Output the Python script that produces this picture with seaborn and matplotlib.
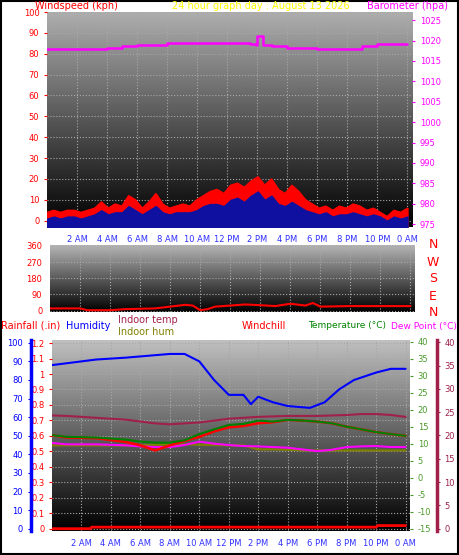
import numpy as np
import pandas as pd
import matplotlib
matplotlib.use("Agg")
import matplotlib.pyplot as plt
import seaborn as sns

sns.set_style("white")
plt.rcParams['font.family'] = ['DejaVu Sans']
plt.rcParams['axes.unicode_minus'] = False

# ---------------- data ----------------
tick_hours = [2, 4, 6, 8, 10, 12, 14, 16, 18, 20, 22, 24]
tick_labels = ["2 AM", "4 AM", "6 AM", "8 AM", "10 AM", "12 PM", "2 PM", "4 PM",
               "6 PM", "8 PM", "10 PM", "0 AM"]

gust = [4, 5, 4, 5, 5, 4, 5, 6, 9, 6, 8, 7, 12, 10, 6, 9, 13, 8, 6, 7, 8, 7, 10, 12,
        14, 15, 13, 17, 18, 16, 19, 21, 17, 20, 15, 13, 17, 14, 10, 8, 6, 7, 5, 7,
        6, 8, 7, 5, 6, 4, 2, 5, 4, 6]
avg = [1, 2, 1, 2, 2, 1, 2, 3, 5, 3, 4, 4, 7, 5, 3, 5, 7, 4, 3, 4, 4, 4, 5, 7,
       8, 8, 7, 10, 11, 9, 12, 14, 10, 12, 8, 7, 9, 7, 5, 4, 3, 4, 2, 3,
       3, 4, 3, 2, 3, 2, 0, 2, 1, 2]
baro_h = [0, 2, 4, 5, 6, 8, 10, 12, 13.5, 13.9, 14.0, 14.3, 14.4, 15, 16, 18, 20, 21, 22, 24]
baro = [1018, 1018, 1018.2, 1018.6, 1019, 1019.3, 1019.4, 1019.4, 1019.1, 1019.0,
        1021.0, 1021.0, 1018.8, 1018.6, 1018.2, 1018.0, 1018.0, 1018.6, 1019.1, 1019.2]

dir_h = [0, 2, 2.5, 4, 5, 6, 7, 8, 9, 9.5, 10, 10.5, 11, 12, 13, 14, 15, 16, 17, 17.5, 18, 20, 24]
direction = [12, 12, 2, 2, 8, 10, 12, 22, 32, 28, 2, 8, 22, 28, 34, 30, 25, 38, 28, 42, 22, 25, 25]

hum_h = [0, 1, 3, 5, 8, 9, 10, 11, 12, 13, 13.5, 14, 15, 16, 17.5, 18.5, 19.5, 20.5, 22, 23, 24]
humidity = [88, 89, 91, 92, 94, 94, 90, 80, 72, 72, 67, 71, 68, 66, 65, 68, 75, 80, 84, 86, 86]

t_h = [0, 1, 3, 5, 6, 7, 8, 9, 10, 11, 12, 13, 14, 15, 16, 17, 18, 19, 20, 21, 22, 23, 24]
temperature = [12.5, 12, 11.8, 11.2, 10.6, 10.3, 10.3, 11, 12.8, 14.2, 15.5, 15.8, 16.8,
               16.5, 17.0, 16.8, 16.5, 16.0, 15.0, 14.2, 13.4, 12.8, 12.3]
windchill = [12.5, 11.8, 11.6, 10.5, 9.5, 8.0, 9.5, 10.8, 12.0, 13.6, 14.8, 15.2, 16.0,
             16.3, 17.0, 16.8, 16.5, 16.0, 15.0, 14.2, 13.4, 12.8, 12.3]
dewpoint = [10.2, 9.8, 9.8, 9.5, 9.2, 9.0, 9.0, 9.6, 10.6, 10.0, 9.6, 9.3, 9.2,
            9.0, 8.8, 8.3, 7.8, 8.2, 9.0, 9.2, 9.3, 9.0, 9.0]
indoor_hum = [9.5, 9.5, 9.5, 9.5, 9.5, 9.7, 9.7, 9.8, 9.7, 9.6, 9.5, 9.5, 8.3,
              8.3, 8.2, 8.0, 8.0, 8.0, 8.0, 8.0, 8.0, 8.0, 8.0]
indoor_temp = [24.3, 24.2, 23.8, 23.4, 23.0, 22.6, 22.4, 22.6, 22.8, 23.2, 23.6, 23.8, 24.0,
               24.1, 24.2, 24.2, 24.2, 24.3, 24.4, 24.6, 24.6, 24.4, 24.0]
rain_h = [0, 2.6, 2.7, 22.0, 22.1, 24]
rain = [0, 0, 0.01, 0.01, 0.02, 0.02]

W, H = 459, 555
fig = plt.figure(figsize=(W / 100, H / 100), dpi=100)
fig.patch.set_facecolor("white")
fig.add_artist(plt.Rectangle((0.002, 0.002), 0.996, 0.996, transform=fig.transFigure,
                             fill=False, edgecolor="black", lw=1.5))

def box(x0, y0, x1, y1):
    return [x0 / W, 1 - y1 / H, (x1 - x0) / W, (y1 - y0) / H]

grad = np.linspace(1, 0, 256).reshape(-1, 1)

def bg(ax, top=0.7):
    ax.imshow(grad * top, extent=[0, 1, 0, 1], transform=ax.transAxes, aspect="auto",
              cmap="gray", vmin=0, vmax=1, zorder=0)
    ax.grid(True, color="#a8a8a8", ls=":", lw=0.8)
    for s in ax.spines.values():
        s.set_visible(False)

def xfmt(ax, labels=True):
    ax.set_xlim(0, 24.3)
    ax.set_xticks(tick_hours)
    ax.set_xticks(range(1, 25), minor=True)
    if labels:
        ax.set_xticklabels(tick_labels, color="#3030ff", fontsize=6)
    else:
        ax.set_xticklabels([])
    ax.tick_params(axis="x", which="both", length=2, color="#c0c0c0")

fs = 6
# ---------------- top panel ----------------
ax1 = fig.add_axes(box(47, 12, 412, 227))
bg(ax1, 0.68)
xfmt(ax1)
ws = pd.DataFrame({"h": np.arange(len(gust)) * 24 / (len(gust) - 1), "gust": gust, "avg": avg})
ax1.fill_between(ws["h"], ws["gust"], -3, color="red", zorder=2)
ax1.fill_between(ws["h"], ws["avg"], -3, color="#1010a0", zorder=3)
sns.lineplot(data=ws, x="h", y="gust", ax=ax1, color="red", lw=1, zorder=2)
ax1.set_ylim(-3, 100)
ax1.set_yticks(range(0, 101, 10))
ax1.tick_params(axis="y", colors="red", labelsize=fs, length=2)
ax1b = ax1.twinx()
for s in ax1b.spines.values():
    s.set_visible(False)
sns.lineplot(x=baro_h, y=baro, ax=ax1b, color="#ff00ff", lw=1.8, drawstyle="steps-post")
ax1b.set_ylim(974.3, 1027)
ax1b.set_yticks(range(975, 1026, 5))
ax1b.tick_params(axis="y", colors="#ff00ff", labelsize=fs, length=2)
tf = 7
fig.text(35 / W, 1 - 6 / H, "Windspeed (kph)", color="red", fontsize=tf, va="center")
fig.text(172 / W, 1 - 6 / H, "24 hour graph day : August 13 2026", color="yellow", fontsize=tf, va="center")
fig.text(367 / W, 1 - 6 / H, "Barometer (hpa)", color="#ff00ff", fontsize=tf, va="center")

# ---------------- middle panel ----------------
ax2 = fig.add_axes(box(50, 245, 415, 312))
bg(ax2, 0.72)
xfmt(ax2, labels=False)
sns.lineplot(x=dir_h, y=direction, ax=ax2, color="red", lw=1.5)
ax2.set_ylim(-8, 365)
ax2.set_yticks([0, 90, 180, 270, 360])
ax2.tick_params(axis="y", colors="red", labelsize=fs, length=2)
for i, c in enumerate(["N", "W", "S", "E", "N"]):
    fig.text(433 / W, 1 - (245 + i * 17) / H, c, color="red", fontsize=9, ha="center", va="center")

# ---------------- bottom panel ----------------
ax3 = fig.add_axes(box(52, 340, 410, 531))
bg(ax3, 0.75)
xfmt(ax3)
ax3.set_ylim(-0.015, 1.22)
ax3.set_yticks(np.round(np.arange(0, 1.21, 0.1), 1))
ax3.set_yticklabels(["0"] + [f"{v:g}" for v in np.round(np.arange(0.1, 1.21, 0.1), 1)])
ax3.tick_params(axis="y", colors="red", labelsize=fs, length=2)
sns.lineplot(x=rain_h, y=rain, ax=ax3, color="red", lw=2)

axh = ax3.twinx()
axh.spines["left"].set_position(("axes", -0.06))
axh.yaxis.set_ticks_position("left"); axh.yaxis.set_label_position("left")
for k in ["top", "bottom", "right"]:
    axh.spines[k].set_visible(False)
axh.spines["left"].set_color("blue"); axh.spines["left"].set_linewidth(2.5)
axh.set_ylim(-1.2, 101.5)
axh.set_yticks(range(0, 101, 10))
axh.tick_params(axis="y", colors="blue", labelsize=fs, length=2)
sns.lineplot(x=hum_h, y=humidity, ax=axh, color="blue", lw=1.5)

axt = ax3.twinx()
for k in ["top", "bottom", "left", "right"]:
    axt.spines[k].set_visible(False)
axt.set_ylim(-15.7, 40.5)
axt.set_yticks(range(-15, 41, 5))
axt.tick_params(axis="y", colors="#4a9a2a", labelsize=fs, length=2)
sns.lineplot(x=t_h, y=indoor_hum, ax=axt, color="#808000", lw=1.5)
sns.lineplot(x=t_h, y=dewpoint, ax=axt, color="#ff00ff", lw=1.5)
sns.lineplot(x=t_h, y=windchill, ax=axt, color="red", lw=1.8)
sns.lineplot(x=t_h, y=temperature, ax=axt, color="green", lw=1.5)

axi = ax3.twinx()
axi.spines["right"].set_position(("axes", 1.075))
for k in ["top", "bottom", "left"]:
    axi.spines[k].set_visible(False)
axi.spines["right"].set_color("#a0204a"); axi.spines["right"].set_linewidth(2.5)
axi.set_ylim(-0.5, 40.5)
axi.set_yticks(range(0, 41, 5))
axi.tick_params(axis="y", colors="#a0204a", labelsize=fs, length=2)
sns.lineplot(x=t_h, y=indoor_temp, ax=axi, color="#a0204a", lw=1.5)
for a in [ax3, axh, axt, axi, ax1b, ax1, ax2]:
    a.set_xlabel(""); a.set_ylabel("")

fy = 1 - 326 / H
fig.text(1 / W, fy, "Rainfall (.in)", color="red", fontsize=tf, va="center")
fig.text(66 / W, fy, "Humidity", color="blue", fontsize=tf, va="center")
fig.text(118 / W, 1 - 320 / H, "Indoor temp", color="#a0204a", fontsize=tf, va="center")
fig.text(118 / W, 1 - 332 / H, "Indoor hum", color="#808000", fontsize=tf, va="center")
fig.text(242 / W, fy, "Windchill", color="red", fontsize=tf, va="center")
fig.text(308 / W, fy, "Temperature (°C)", color="green", fontsize=6.5, va="center")
fig.text(457 / W, fy, "Dew Point (°C)", color="#ff00ff", fontsize=6.5, va="center", ha="right")

fig.savefig("out.png", dpi=100)
